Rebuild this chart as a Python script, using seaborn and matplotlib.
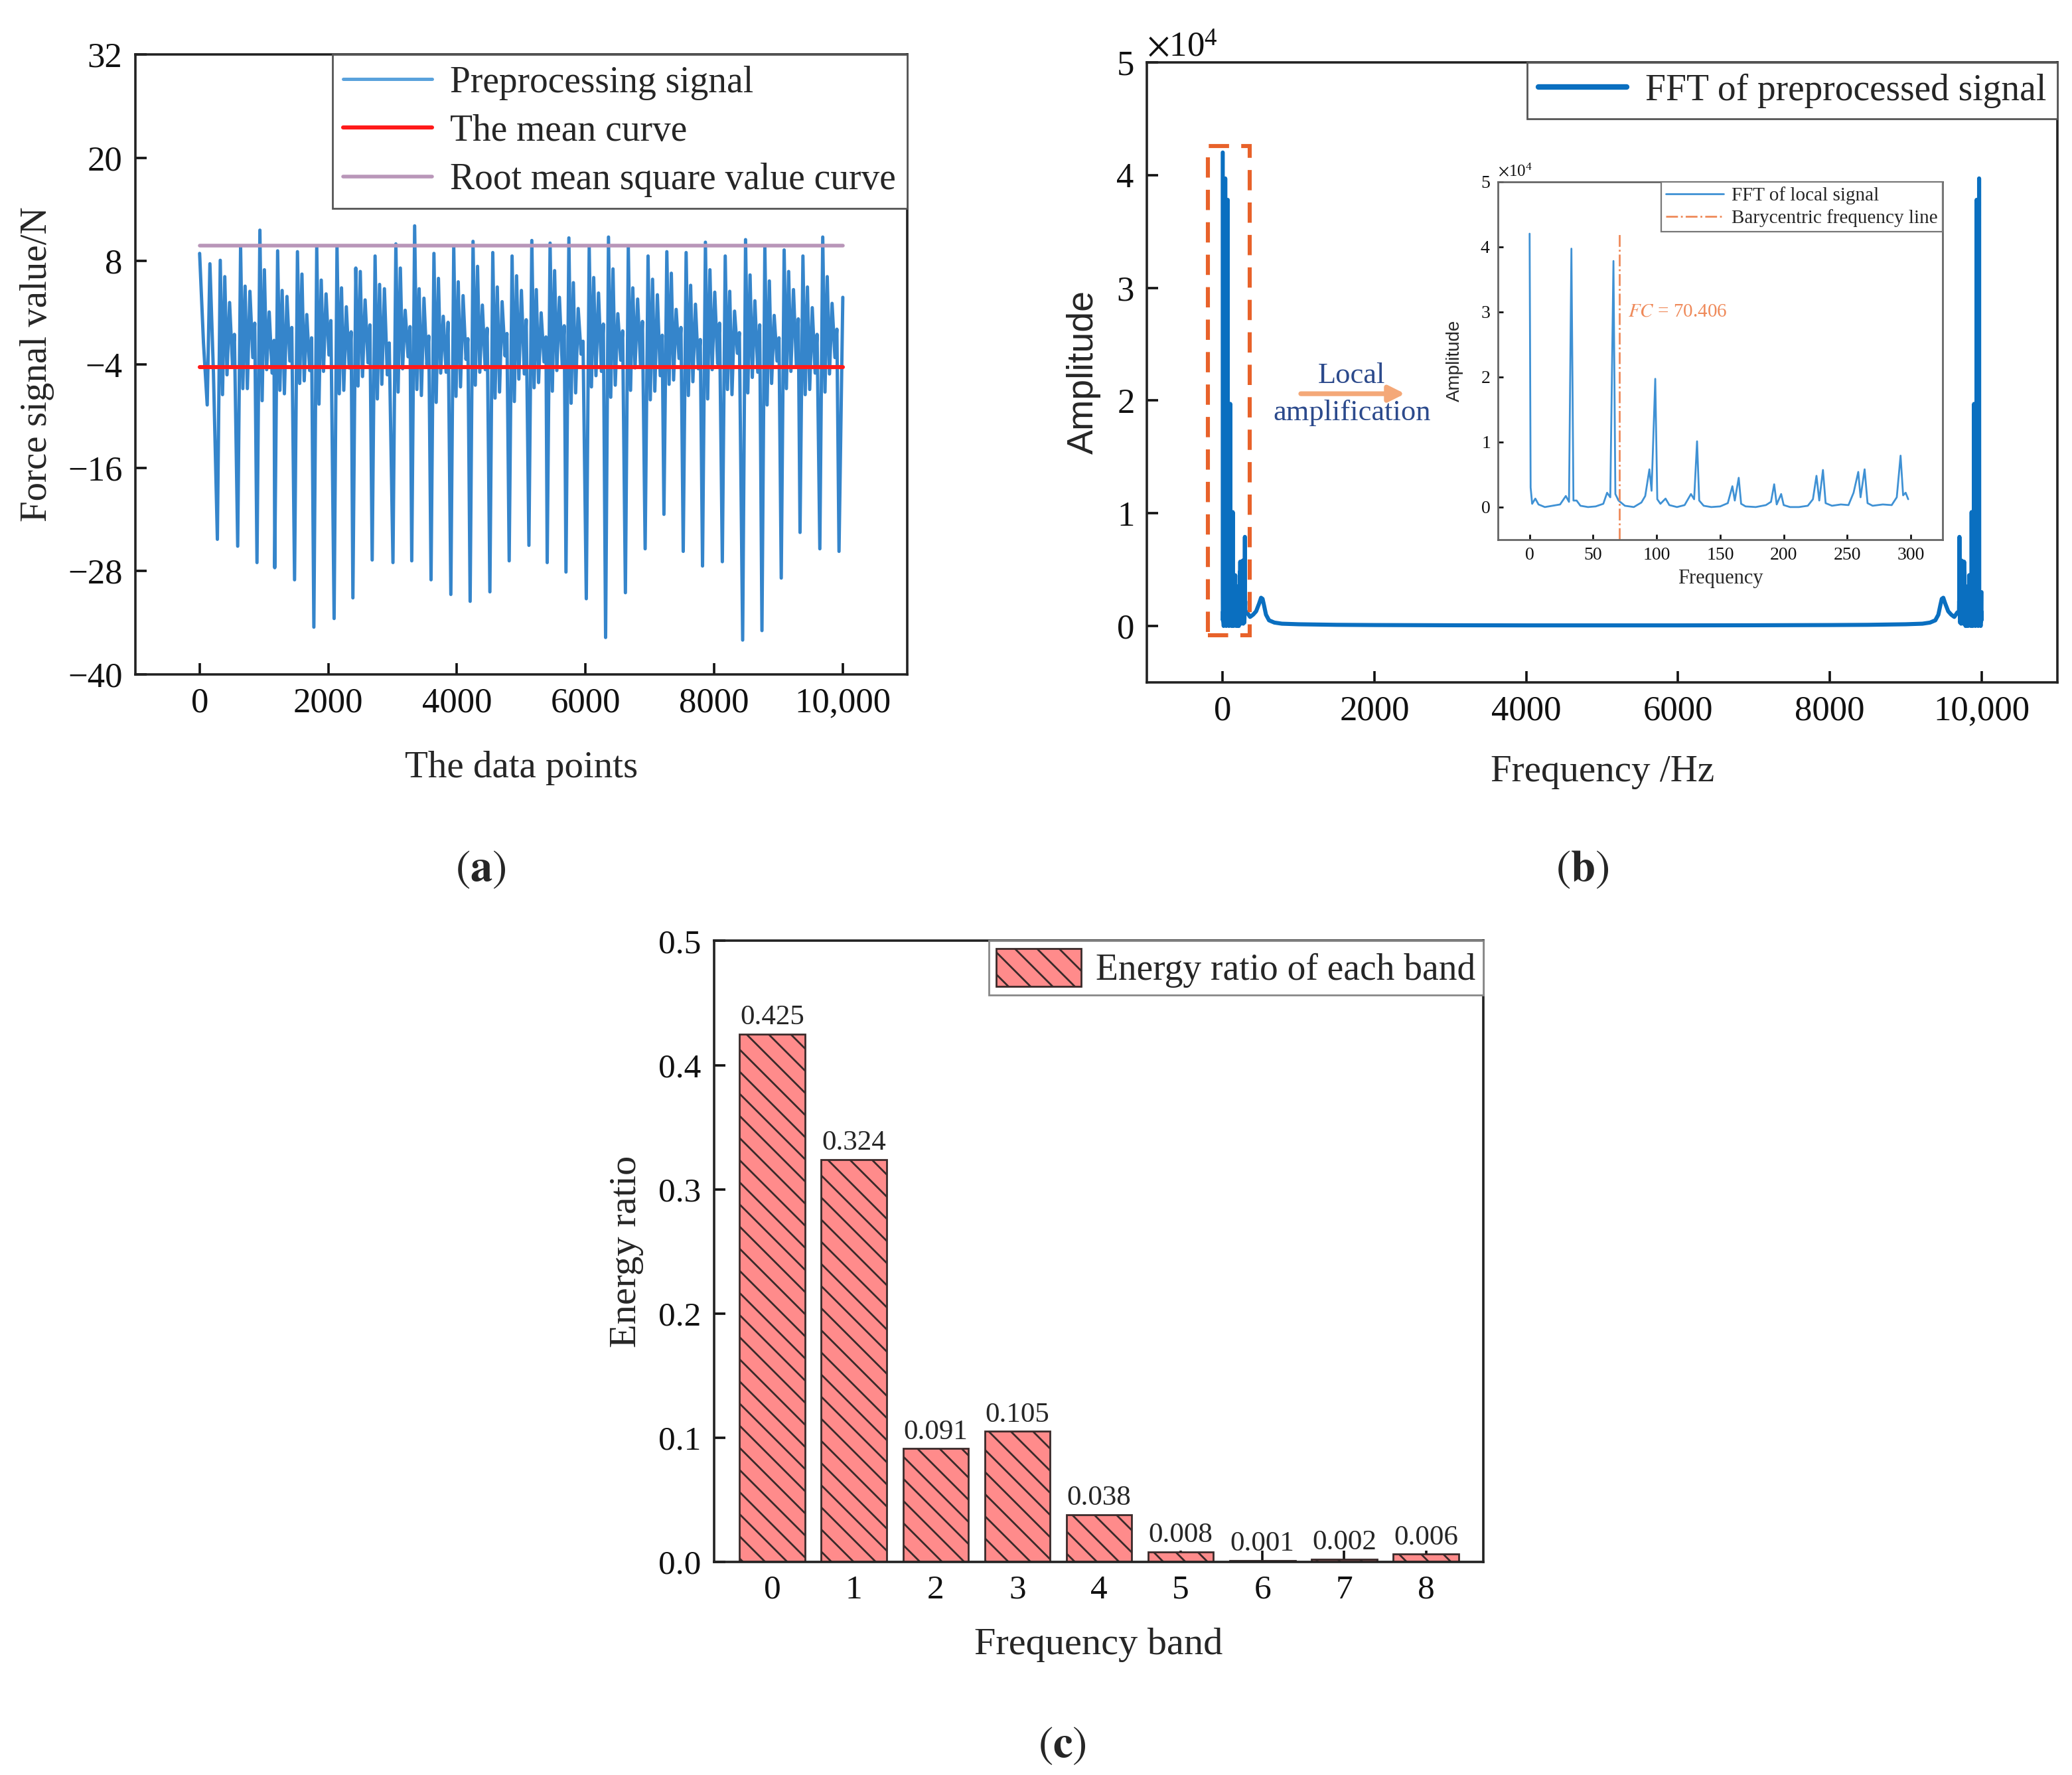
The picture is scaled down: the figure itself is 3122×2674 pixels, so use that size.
from __future__ import annotations

import matplotlib

matplotlib.use("Agg")

import matplotlib.pyplot as plt
import numpy as np
import pandas as pd
import seaborn as sns
from matplotlib.patches import Patch, Rectangle
from matplotlib.ticker import FuncFormatter, ScalarFormatter


# ---------------- (a) force signal: turning points ----------------
LEAD_X = [0, 60, 118, 160, 215]
LEAD_Y = [8.9, -1.5, -8.7, 7.7, -5.0]
TROUGH_IDX = [276, 592, 892, 1168, 1476, 1776, 2091, 2383, 2683, 3006, 3298, 3598, 3906,
              4206, 4513, 4813, 5120, 5404, 5696, 6012, 6312, 6620, 6927, 7219, 7519, 7819,
              8127, 8443, 8743, 9043, 9335, 9643, 9941]
TROUGH = [-24.3, -25.1, -27.0, -27.6, -29.0, -34.5, -33.5, -31.1, -26.7, -27.0, -26.8, -29.0,
          -30.7, -31.5, -30.4, -26.8, -25.0, -27.0, -28.1, -31.2, -35.7, -30.5, -25.4, -21.4,
          -25.7, -27.4, -26.9, -36.0, -34.9, -28.8, -23.5, -25.4, -25.7]
PEAK = [8.1, 9.7, 11.6, 9.2, 9.1, 9.7, 9.7, 7.2, 8.6, 10.0, 12.1, 8.9, 9.7, 10.3, 9.0, 8.6,
        10.4, 10.1, 10.7, 9.7, 10.8, 9.7, 8.6, 9.1, 9.0, 10.2, 8.6, 10.5, 9.7, 9.3, 8.6, 10.8]
DIP_A = [-7.5, -6.8, -8.2, -7.0, -6.2, -8.6, -7.4, -6.5, -8.0, -7.2, -6.9, -8.4, -7.7, -6.4,
         -7.9, -8.3, -6.7, -7.1, -8.5, -6.6, -7.8, -7.0, -8.1, -6.3, -7.6, -8.0, -6.9, -7.3,
         -8.7, -6.8, -7.5, -7.2]
RISE_A = [6.2, 5.1, 7.0, 4.6, 6.5, 5.8, 4.9, 6.8, 5.3, 7.2, 4.8, 6.0, 5.6, 7.4, 5.0, 6.3,
          4.7, 6.9, 5.5, 6.1, 7.1, 4.9, 5.9, 6.6, 5.2, 7.0, 4.5, 6.4, 5.7, 6.8, 5.0, 6.2]
DIP_B = [-5.2, -6.8, -4.6, -7.4, -5.9, -4.8, -7.0, -5.4, -6.3, -4.5, -7.6, -5.0, -6.6, -4.9,
         -7.2, -5.7, -6.1, -4.7, -7.3, -5.3, -6.4, -4.4, -7.1, -5.8, -6.0, -4.6, -7.5, -5.5,
         -6.2, -4.8, -6.9, -5.1]
RISE_B = [3.2, 4.5, 2.1, 3.9, 1.8, 4.2, 2.7, 3.5, 4.8, 2.3, 3.7, 1.6, 4.0, 2.9, 3.3, 4.6,
          2.0, 3.8, 2.5, 4.3, 1.9, 3.6, 4.1, 2.4, 3.0, 4.4, 2.2, 3.4, 1.7, 4.7, 2.6, 3.1]
DIP_C = [-4.1, -3.2, -5.0, -3.6, -4.7, -2.9, -4.4, -3.8, -5.2, -3.1, -4.0, -4.9, -3.4, -4.6,
         -3.0, -5.1, -3.7, -4.3, -2.8, -4.8, -3.5, -4.2, -5.3, -3.3, -4.5, -3.9, -2.7, -4.9,
         -3.6, -4.1, -5.0, -3.2]
RISE_C = [-0.5, 0.8, -1.2, 0.3, -0.9, 1.1, -0.2, 0.6, -1.5, 0.4, -0.7, 0.9, -1.0, 0.2, -0.4,
          1.2, -0.8, 0.5, -1.3, 0.7, -0.1, 1.0, -0.6, 0.3, -1.1, 0.8, -0.3, 0.6, -0.9, 1.3,
          -0.5, 0.1]
CYCLE_OFFSETS = [45, 80, 115, 150, 190, 235, 265]
END_X, END_Y = 10000, 3.8
MEAN_VALUE = -4.3
RMS_VALUE = 9.8
SIGNAL_SPAN = [0, 10000]

# ---------------- (b) FFT (amplitude in units of 1e4) ----------------
LOCAL_FREQ = [0, 0.8, 2, 4.5, 7, 12, 18, 24, 28.5, 31, 32.9, 34.5, 37, 40, 46, 52, 58, 61,
              63.5, 66, 67.5, 70, 75, 82, 88, 91, 94.3, 96, 98.9, 100.5, 103, 107, 110, 116,
              122, 127, 129.5, 131.8, 133.5, 137, 143, 150, 156, 159.6, 161.5, 164.6, 166.5,
              170, 178, 186, 190, 192.5, 194.5, 198, 200, 205, 212, 219, 223, 225.8, 228,
              230.9, 233, 238, 245, 251, 255, 258.7, 260.5, 263.7, 266, 270, 278, 285, 289,
              292, 294, 296, 298]
LOCAL_AMP = [4.2, 0.3, 0.05, 0.13, 0.04, 0.0, 0.02, 0.04, 0.17, 0.08, 3.97, 0.1, 0.1, 0.02,
             0.0, 0.01, 0.05, 0.22, 0.15, 3.78, 0.2, 0.1, 0.02, 0.0, 0.07, 0.17, 0.58, 0.25,
             1.97, 0.12, 0.05, 0.13, 0.03, 0.0, 0.03, 0.2, 0.12, 1.01, 0.1, 0.02, 0.0, 0.01,
             0.06, 0.32, 0.1, 0.45, 0.05, 0.01, 0.0, 0.03, 0.08, 0.35, 0.04, 0.2, 0.03, 0.0,
             0.0, 0.02, 0.12, 0.48, 0.1, 0.57, 0.06, 0.02, 0.04, 0.03, 0.22, 0.54, 0.15, 0.58,
             0.06, 0.02, 0.04, 0.03, 0.15, 0.79, 0.18, 0.22, 0.12]
EXT_FREQ = [320, 360, 400, 440, 480, 505, 525, 545, 570, 610, 680, 780, 1000, 1500, 2000,
            3000, 4000, 5000]
EXT_AMP = [0.12, 0.08, 0.1, 0.13, 0.2, 0.25, 0.24, 0.18, 0.1, 0.05, 0.03, 0.02, 0.015, 0.01,
           0.008, 0.006, 0.005, 0.005]
SAMPLE_RATE = 10000
FC = 70.406
ZOOM_BOX = (-200, 355, -0.08, 4.26)  # x0, x1, y0, y1 of the highlighted region

# ---------------- (c) energy ratio ----------------
BANDS = ["0", "1", "2", "3", "4", "5", "6", "7", "8"]
ENERGY = [0.425, 0.324, 0.091, 0.105, 0.038, 0.008, 0.001, 0.002, 0.006]
ENERGY_LABELS = ["0.425", "0.324", "0.091", "0.105", "0.038", "0.008", "0.001", "0.002", "0.006"]

SERIF = "Liberation Serif"
SANS = "Liberation Sans"


def thousands(v, _):
    return f"{int(v):,}" if abs(v) >= 10000 else f"{int(v)}"


def style_axis(ax, lw=1.3, color="#222222", tick_size=19, length=6):
    for sp in ax.spines.values():
        sp.set_visible(True)
        sp.set_linewidth(lw)
        sp.set_color(color)
    ax.tick_params(direction="in", length=length, width=lw, colors="#111111",
                   labelsize=tick_size, top=False, right=False, pad=7)


def build_signal():
    xs, ys = list(LEAD_X), list(LEAD_Y)
    for i, t in enumerate(TROUGH_IDX):
        xs.append(t)
        ys.append(TROUGH[i])
        if i < len(PEAK):
            vals = [PEAK[i], DIP_A[i], RISE_A[i], DIP_B[i], RISE_B[i], DIP_C[i], RISE_C[i]]
            for off, v in zip(CYCLE_OFFSETS, vals):
                xs.append(t + off)
                ys.append(v)
    xs.append(END_X)
    ys.append(END_Y)
    return pd.DataFrame({"x": xs, "y": ys})


def build_spectrum():
    half_f = LOCAL_FREQ + EXT_FREQ
    half_a = LOCAL_AMP + EXT_AMP
    mir_f = [SAMPLE_RATE - f for f in reversed(half_f[1:-1])]
    mir_a = list(reversed(half_a[1:-1]))
    freq = np.array(half_f + mir_f)
    amp = np.array(half_a + mir_a) * 1e4
    return pd.DataFrame({"f": freq, "a": amp})


def plot_signal(fig):
    ax = fig.add_axes([0.0653, 0.620, 0.3725, 0.3493])
    df = build_signal()
    sns.lineplot(data=df, x="x", y="y", ax=ax, color="#3585cb", lw=1.8, sort=False,
                 estimator=None, label="Preprocessing signal")
    sns.lineplot(x=SIGNAL_SPAN, y=[MEAN_VALUE] * 2, ax=ax, color="#ff1a1a", lw=2.2,
                 label="The mean curve")
    sns.lineplot(x=SIGNAL_SPAN, y=[RMS_VALUE] * 2, ax=ax, color="#b996b9", lw=2.0,
                 label="Root mean square value curve")
    ax.set_xlim(-1000, 11000)
    ax.set_ylim(-40, 32)
    ax.set_yticks([-40, -28, -16, -4, 8, 20, 32])
    ax.set_xticks([0, 2000, 4000, 6000, 8000, 10000])
    ax.xaxis.set_major_formatter(FuncFormatter(thousands))
    style_axis(ax)
    ax.set_xlabel("The data points", fontsize=20.5, labelpad=17)
    ax.set_ylabel("Force signal value/N", fontsize=20.5, labelpad=7)
    leg = ax.legend(loc="upper right", borderaxespad=0, fancybox=False, framealpha=1,
                    edgecolor="#555555", fontsize=20, handlelength=2.4, borderpad=0.3,
                    labelspacing=0.38, handletextpad=0.5)
    leg.get_frame().set_linewidth(1.0)
    leg.legend_handles[0].set_color("#5aa2dc")
    leg.legend_handles[0].set_linewidth(1.8)


def plot_fft(fig):
    ax = fig.add_axes([0.5535, 0.6156, 0.4395, 0.3493])
    spec = build_spectrum()
    sns.lineplot(data=spec, x="f", y="a", ax=ax, color="#0a6fc0", lw=2.2, sort=False,
                 estimator=None, label="FFT of preprocessed signal")
    ax.set_xlim(-1000, 11000)
    ax.set_ylim(-0.5e4, 5e4)
    ax.set_xticks([0, 2000, 4000, 6000, 8000, 10000])
    ax.set_yticks([0, 1e4, 2e4, 3e4, 4e4, 5e4])
    ax.xaxis.set_major_formatter(FuncFormatter(thousands))
    fmt = ScalarFormatter(useMathText=True)
    fmt.set_powerlimits((0, 0))
    ax.yaxis.set_major_formatter(fmt)
    style_axis(ax)
    ax.yaxis.get_offset_text().set_fontsize(19)
    ax.set_xlabel("Frequency /Hz", fontsize=20.5, labelpad=15)
    ax.set_ylabel("Amplitude", fontsize=20, family=SANS, labelpad=8)
    leg = ax.legend(loc="upper right", borderaxespad=0, fancybox=False, framealpha=1,
                    edgecolor="#555555", fontsize=20, handlelength=2.4, borderpad=0.3,
                    handletextpad=0.5)
    leg.get_frame().set_linewidth(1.0)
    leg.legend_handles[0].set_linewidth(3)

    x0, x1, y0, y1 = ZOOM_BOX
    ax.add_patch(Rectangle((x0, y0 * 1e4), x1 - x0, (y1 - y0) * 1e4, fill=False,
                           edgecolor="#e8622a", lw=2.2, ls=(0, (5, 3)), zorder=5))
    ax.annotate("", xy=(2450, 2.06e4), xytext=(980, 2.06e4),
                arrowprops=dict(arrowstyle="-|>", color="#f4a878", lw=2.6,
                                mutation_scale=18))
    ax.text(1700, 2.22e4, "Local", ha="center", va="center", fontsize=16, color="#2c4a8c")
    ax.text(1700, 1.89e4, "amplification", ha="center", va="center", fontsize=16,
            color="#2c4a8c")

    # inset
    ins = fig.add_axes([0.7229, 0.6960, 0.2146, 0.2017])
    local = pd.DataFrame({"f": LOCAL_FREQ, "a": np.array(LOCAL_AMP) * 1e4})
    sns.lineplot(data=local, x="f", y="a", ax=ins, color="#3f91d4", lw=1.0, sort=False,
                 estimator=None, label="FFT of local signal")
    ins.plot([FC, FC], [-0.5e4, max(LOCAL_AMP) * 1e4], color="#ef8a5a", lw=1.0,
             ls="-.", label="Barycentric frequency line")
    ins.text(FC + 7, 3.0e4, r"$\it{FC}$ = 70.406", color="#ef8a5a", fontsize=10.5,
             va="center")
    ins.set_xlim(-25, 325)
    ins.set_ylim(-0.5e4, 5e4)
    ins.set_xticks([0, 50, 100, 150, 200, 250, 300])
    ins.set_yticks([0, 1e4, 2e4, 3e4, 4e4, 5e4])
    fmt2 = ScalarFormatter(useMathText=True)
    fmt2.set_powerlimits((0, 0))
    ins.yaxis.set_major_formatter(fmt2)
    style_axis(ins, lw=1.0, color="#666666", tick_size=10, length=3)
    ins.tick_params(pad=4)
    ins.yaxis.get_offset_text().set_fontsize(9)
    ins.set_xlabel("Frequency", fontsize=11, labelpad=3)
    ins.set_ylabel("Amplitude", fontsize=10, family=SANS, labelpad=9)
    leg = ins.legend(loc="upper right", borderaxespad=0, fancybox=False, framealpha=1,
                     edgecolor="#777777", fontsize=10.5, handlelength=3.0, borderpad=0.25,
                     labelspacing=0.25, handletextpad=0.4)
    leg.get_frame().set_linewidth(0.8)


def plot_energy(fig):
    ax = fig.add_axes([0.3447, 0.1202, 0.3711, 0.3497])
    sns.barplot(x=BANDS, y=ENERGY, ax=ax, color="#ff8b8b", saturation=1, width=0.8,
                edgecolor="#3a2a2a", linewidth=1.0, hatch="\\\\")
    ax.set_xlim(-0.71, 8.70)
    ax.set_ylim(0, 0.5)
    ax.set_yticks([0.0, 0.1, 0.2, 0.3, 0.4, 0.5])
    ax.yaxis.set_major_formatter(FuncFormatter(lambda v, _: f"{v:.1f}"))
    style_axis(ax, tick_size=18.5)
    ax.bar_label(ax.containers[0], labels=ENERGY_LABELS, padding=2, fontsize=15.5)
    ax.set_xlabel("Frequency band", fontsize=21, labelpad=12)
    ax.set_ylabel("Energy ratio", fontsize=21, labelpad=8)
    handle = Patch(facecolor="#ff8b8b", edgecolor="#3a2a2a", hatch="\\\\", lw=1.0)
    leg = ax.legend([handle], ["Energy ratio of each band"], loc="upper right",
                    borderaxespad=0, fancybox=False, framealpha=1, edgecolor="#888888",
                    fontsize=20, handlelength=2.3, handleheight=1.2, borderpad=0.2,
                    handletextpad=0.4)
    leg.get_frame().set_linewidth(1.0)


def main():
    sns.set_theme(style="ticks")
    plt.rcParams["font.family"] = [SERIF, "DejaVu Serif"]
    plt.rcParams["mathtext.fontset"] = "stix"
    plt.rcParams["hatch.color"] = "#3a2a2a"
    plt.rcParams["hatch.linewidth"] = 1.0
    plt.rcParams["axes.unicode_minus"] = True

    fig = plt.figure(figsize=(15.61, 13.37), dpi=200)
    plot_signal(fig)
    plot_fft(fig)
    plot_energy(fig)

    fig.text(0.2319, 0.5101, r"$(\mathbf{a})$", ha="center", va="center", fontsize=24)
    fig.text(0.7636, 0.5101, r"$(\mathbf{b})$", ha="center", va="center", fontsize=24)
    fig.text(0.5125, 0.0165, r"$(\mathbf{c})$", ha="center", va="center", fontsize=24)

    fig.savefig("out.png", dpi=200, facecolor="white")
    plt.close(fig)


if __name__ == "__main__":
    main()
